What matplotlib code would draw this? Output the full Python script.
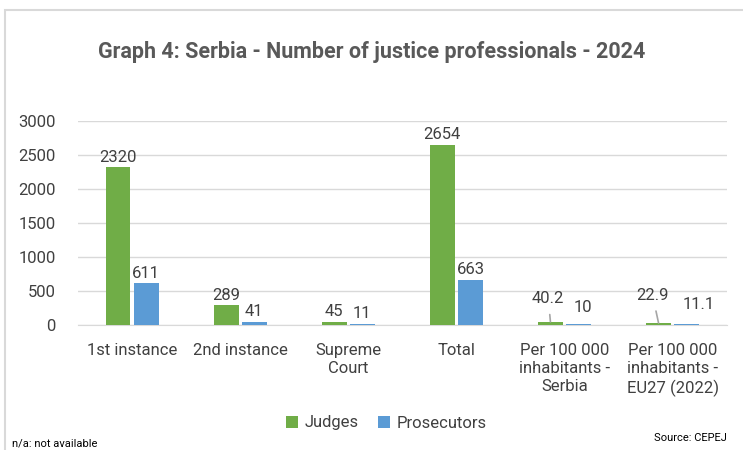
import matplotlib.pyplot as plt
import numpy as np
from matplotlib.patches import Rectangle

categories = ["1st instance", "2nd instance", "Supreme\nCourt", "Total",
              "Per 100 000\ninhabitants -\nSerbia", "Per 100 000\ninhabitants -\nEU27 (2022)"]
judges = [2320, 289, 45, 2654, 40.2, 22.9]
prosecutors = [611, 41, 11, 663, 10, 11.1]
judge_labels = ["2320", "289", "45", "2654", "40.2", "22.9"]
pros_labels = ["611", "41", "11", "663", "10", "11.1"]

plt.rcParams['font.family'] = ['Roboto', 'DejaVu Sans']
txt = "#404040"

fig = plt.figure(figsize=(7.43, 4.5), dpi=100)
ax = fig.add_axes([0.105, 0.278, 0.873, 0.453])

x = np.arange(len(categories))
w = 0.23
gap = 0.03
ax.bar(x - w/2 - gap/2, judges, w, color="#70AD47", label="Judges", zorder=3)
ax.bar(x + w/2 + gap/2, prosecutors, w, color="#5B9BD5", label="Prosecutors", zorder=3)

# small values get labels lifted off the bars (label x offset, label y)
lift_j = {4: (-0.02, 385), 5: (-0.055, 435)}
lift_p = {4: (0.04, 250), 5: (0.11, 295)}

for i in range(len(categories)):
    xj = x[i] - w/2 - gap/2
    xp = x[i] + w/2 + gap/2
    if i < 4:
        ax.text(xj, judges[i] + 40, judge_labels[i], ha="center", va="bottom", fontsize=12, color=txt)
        ax.text(xp, prosecutors[i] + 40, pros_labels[i], ha="center", va="bottom", fontsize=12, color=txt)
    else:
        dx, ly = lift_j[i]
        ax.annotate(judge_labels[i], xy=(xj, judges[i] + 5), xytext=(xj + dx, ly),
                    ha="center", va="center", fontsize=12, color=txt,
                    arrowprops=dict(arrowstyle="-", color="#A6A6A6", lw=1.2, shrinkA=4, shrinkB=0))
        dx, ly = lift_p[i]
        ax.text(xp + dx, ly, pros_labels[i], ha="center", va="center", fontsize=12, color=txt)

ax.set_ylim(0, 3000)
ax.set_xlim(-0.5, len(categories) - 0.5)
ax.set_yticks(range(0, 3001, 500))
ax.yaxis.grid(True, color="#D9D9D9", lw=1, zorder=0)
ax.set_xticks(x)
ax.set_xticklabels(categories, fontsize=12, color=txt, linespacing=1.25)
ax.tick_params(axis="y", labelsize=12, labelcolor=txt, length=0, pad=16)
ax.tick_params(axis="x", length=0, pad=13)
for s in ax.spines.values():
    s.set_visible(False)
ax.spines["bottom"].set_visible(True)
ax.spines["bottom"].set_color("#D9D9D9")

fig.text(0.5, 0.885, "Graph 4: Serbia - Number of justice professionals - 2024",
         ha="center", va="center", fontsize=15.5, fontweight="bold", color="#595959")

fig.legend(loc="center", bbox_to_anchor=(0.52, 0.06), ncol=2, frameon=False,
           fontsize=12, labelcolor=txt, handlelength=0.7, handleheight=0.7,
           handletextpad=0.4, columnspacing=1.2)

fig.text(0.016, 0.015, "n/a: not available", fontsize=8, color="black", ha="left", va="center")
fig.text(0.978, 0.027, "Source: CEPEJ", fontsize=8, color="black", ha="right", va="center")

fig.patches.append(Rectangle((0.007, -0.1), 1.1, 1.078, transform=fig.transFigure,
                             fill=False, edgecolor="#D9D9D9", lw=1.5))

fig.savefig("out.png", dpi=100)
